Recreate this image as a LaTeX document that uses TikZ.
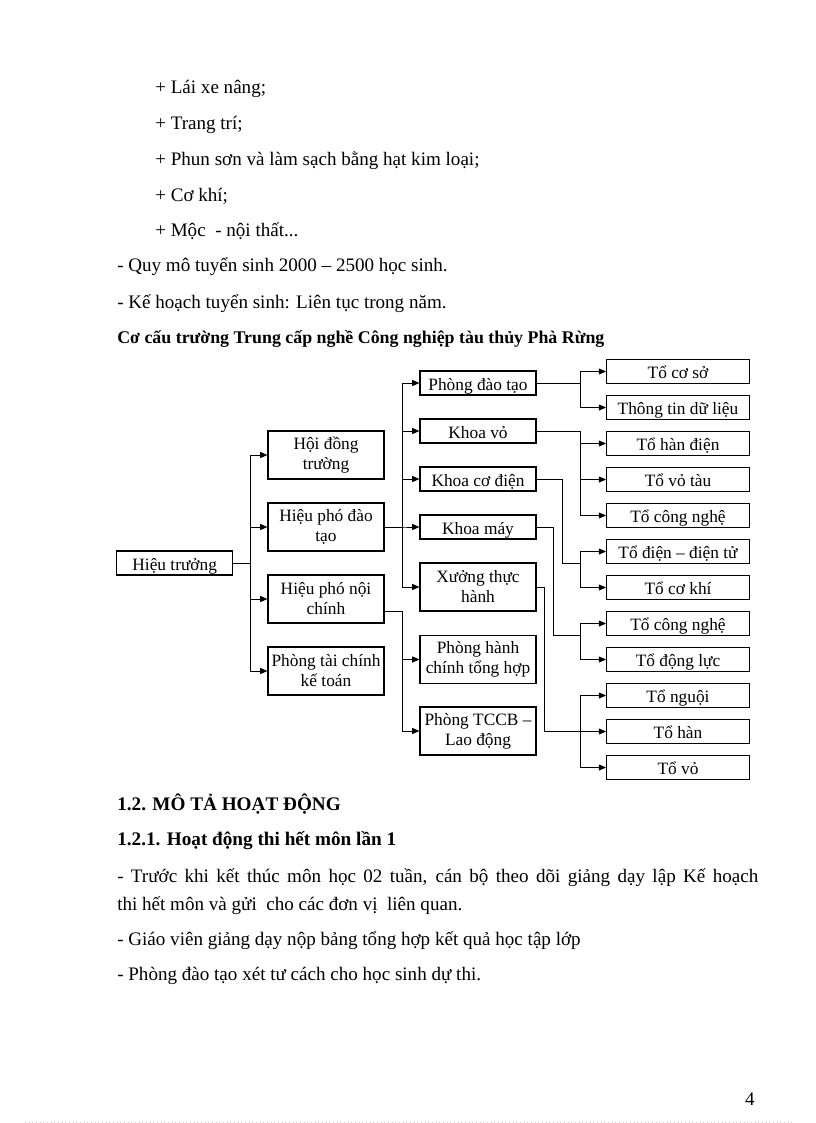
\documentclass[tikz,border=0pt]{standalone}
\usepackage{fontspec}
\setmainfont{Liberation Serif}
\usetikzlibrary{arrows.meta}

\begin{document}
\begin{tikzpicture}[x=0.75pt,y=-0.75pt,
    		unit/.style={draw,line width=0.8pt,minimum width=87pt,minimum height=18pt,inner sep=0pt,align=center,font=\fontsize{13}{15}\selectfont},
    		single/.style={unit,text height=10.5pt,text depth=0pt},
    		tall/.style={unit,minimum height=36pt},
    		tobox/.style={single,minimum width=107pt},
    		link/.style={line width=0.75pt,-{Triangle[length=5.5pt,width=4.5pt]}},
    		body/.style={anchor=base west,inner sep=0pt,font=\fontsize{14.3}{21}\selectfont},
    		head/.style={anchor=base west,inner sep=0pt,font=\fontsize{14.4}{21}\selectfont\bfseries}]
    		\useasboundingbox[fill=white] (0,0) rectangle (816,1123);
    		% text above the chart
    		\node (lineLai) at (155,94) [body] {+ Lái xe nâng;};
    		\node (lineTrangTri) at (155,130) [body] {+ Trang trí;};
    		\node (linePhun) at (155,166) [body] {+ Phun sơn và làm sạch bằng hạt kim loại;};
    		\node (lineCoKhi) at (155,202) [body] {+ Cơ khí;};
    		\node (lineMoc) at (155,237) [body] {+ Mộc\ \ - nội thất...};
    		\node (lineQuyMo) at (117,272) [body] {- Quy mô tuyển sinh 2000 -- 2500 học sinh.};
    		\node (lineKeHoach) at (117,308) [body] {- Kế hoạch tuyển sinh: Liên tục trong năm.};
    		\node (caption) at (117,343) [head,font=\fontsize{13.4}{21}\selectfont\bfseries] {Cơ cấu trường Trung cấp nghề Công nghiệp tàu thủy Phà Rừng};
    		% chart
    		\node (hieuTruong) at (174.7,563) [single] {Hiệu trưởng};
    		\node (hdTruong) at (326,455) [tall] {Hội đồng\\trường};
    		\node (hpDaoTao) at (326,527) [tall] {Hiệu phó đào\\tạo};
    		\node (hpNoiChinh) at (326,599) [tall] {Hiệu phó nội\\chính};
    		\node (pTaiChinh) at (326,671) [tall] {Phòng tài chính\\kế toán};
    		\node (pDaoTao) at (478,383) [single] {Phòng đào tạo};
    		\node (khoaVo) at (478,431) [single] {Khoa vỏ};
    		\node (khoaCoDien) at (478,479) [single] {Khoa cơ điện};
    		\node (khoaMay) at (478,527) [single] {Khoa máy};
    		\node (xuongTH) at (478,587) [tall] {Xưởng thực\\hành};
    		\node (pHanhChinh) at (478,659.5) [tall] {Phòng hành\\chính tổng hợp};
    		\node (pTCCB) at (478,731) [tall] {Phòng TCCB --\\Lao động};
    		\foreach \n/\t [count=\i from 0] in {toCoSo/Tổ cơ sở,toThongTin/Thông tin dữ liệu,toHanDien/Tổ hàn điện,toVoTau/Tổ vỏ tàu,toCongNghe/Tổ công nghệ,toDienTu/Tổ điện -- điện tử,toCoKhi/Tổ cơ khí,toCongNgheB/Tổ công nghệ,toDongLuc/Tổ động lực,toNguoi/Tổ nguội,toHan/Tổ hàn,toVo/Tổ vỏ}
    		{
    			\node (\n) at (678,371.5+36*\i) [tobox] {\t};
    		}
    		\foreach \n in {hdTruong,hpDaoTao,hpNoiChinh,pTaiChinh}
    			\draw[link] (hieuTruong.east) -- ++(17.3,0) |- (\n.west);
    		\foreach \n in {pDaoTao,khoaVo,khoaCoDien,khoaMay,xuongTH}
    			\draw[link] (hpDaoTao.east) -- ++(18,0) |- (\n.west);
    		\foreach \n in {pHanhChinh,pTCCB}
    			\draw[link] ([yshift=-9pt]hpNoiChinh.east) -- ++(18,0) |- (\n.west);
    		\foreach \n in {toCoSo,toThongTin}
    			\draw[link] (pDaoTao.east) -- ++(44,0) |- (\n.west);
    		\foreach \n in {toHanDien,toVoTau,toCongNghe}
    			\draw[link] (khoaVo.east) -- ++(44,0) |- (\n.west);
    		\foreach \n in {toDienTu,toCoKhi}
    			\draw[link] (khoaCoDien.east) -| (562.7,563) -- (580,563) |- (\n.west);
    		\foreach \n in {toCongNgheB,toDongLuc}
    			\draw[link] (khoaMay.east) -| (553.3,635) -- (580,635) |- (\n.west);
    		\foreach \n in {toNguoi,toHan,toVo}
    			\draw[link] (xuongTH.east) -| (544,731.5) -- (580,731.5) |- (\n.west);
    		% text below the chart
    		\node (secHead) at (117,810) [head] {1.2. MÔ TẢ HOẠT ĐỘNG};
    		\node (subHead) at (117,845) [head] {1.2.1. Hoạt động thi hết môn lần 1};
    		\node (lineTruoc) at (117,882) [body] {\makebox[480.75pt][s]{- Trước khi kết thúc môn học 02 tuần, cán bộ theo dõi giảng dạy lập Kế hoạch}};
    		\node (lineThi) at (117,910) [body] {thi hết môn và gửi\ \ cho các đơn vị\ \ liên quan.};
    		\node (lineGiaoVien) at (117,945) [body] {- Giáo viên giảng dạy nộp bảng tổng hợp kết quả học tập lớp};
    		\node (linePhong) at (117,980) [body] {- Phòng đào tạo xét tư cách cho học sinh dự thi.};
    		\node (pageNo) at (755,1105) [body,anchor=base east] {4};
    		\draw[black!20,dotted,line width=0.75pt] (25,1122) -- (792,1122);
    		\end{tikzpicture}
\end{document}
